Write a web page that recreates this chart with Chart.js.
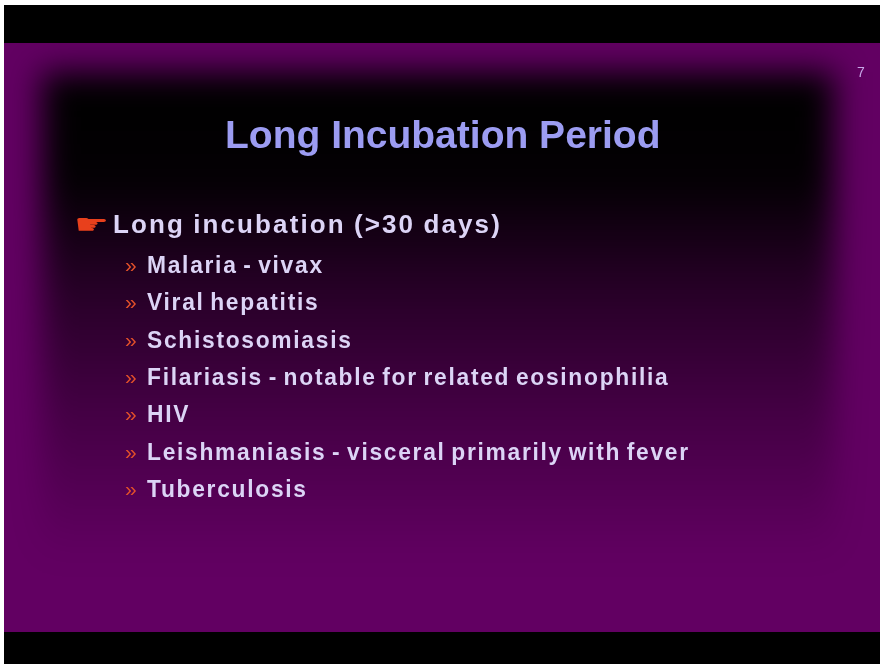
<!DOCTYPE html>
<html>
<head>
<meta charset="utf-8">
<script src="https://cdn.jsdelivr.net/npm/chart.js@4.4.1/dist/chart.umd.min.js"></script>
<style>
  html, body { margin: 0; padding: 0; background: #fff; }
  #wrap { position: relative; width: 880px; height: 664px; overflow: hidden; }
  #slide { position: absolute; left: 0; top: 0; }
  .txt { position: absolute; white-space: nowrap; font-family: "Liberation Sans", Arial, sans-serif; font-weight: bold; }
  #title { left: 225px; top: 112px; font-size: 39px; line-height: 46px; color: #9c9cf2; }
  #pageNo { left: 857px; top: 64px; font-size: 14px; line-height: 16px; color: #c8a8e8; font-weight: normal; }
  #heading { left: 113px; top: 209px; font-size: 26px; line-height: 30px; color: #dcd4f6; letter-spacing: 2.1px; word-spacing: -1px; }
  #hand { position: absolute; left: 74px; top: 211px; font-size: 28px; line-height: 28px; color: #e8401c;
          font-family: "DejaVu Sans", sans-serif; transform: scaleX(1.4); transform-origin: left center; }
  .item { left: 147px; font-size: 24px; line-height: 28px; color: #dcd4f6; letter-spacing: 1.8px; word-spacing: -2.5px;
          transform: scaleX(0.95); transform-origin: left center; }
  .chev { position: absolute; left: 125px; font-family: "Liberation Sans", Arial, sans-serif; font-size: 21px; line-height: 28px;
          color: #e2502a; letter-spacing: -3px; }
</style>
</head>
<body>
<div id="wrap">
  <canvas id="slide" width="880" height="664"></canvas>
</div>
<script>
// slide text
const slideTitle = 'Long Incubation Period';
const pageNumber = '7';
const heading = 'Long incubation (>30 days)';
const items = [
  'Malaria - vivax',
  'Viral hepatitis',
  'Schistosomiasis',
  'Filariasis - notable for related eosinophilia',
  'HIV',
  'Leishmaniasis - visceral primarily with fever',
  'Tuberculosis'
];

// background: purple slide with dark vignette, drawn on the chart canvas
const slideBackground = {
  id: 'slideBackground',
  beforeDraw(chart) {
    const ctx = chart.ctx;
    ctx.save();
    ctx.fillStyle = '#ffffff';
    ctx.fillRect(0, 0, 880, 664);
    ctx.fillStyle = '#000000';
    ctx.fillRect(4, 5, 876, 38);
    ctx.fillRect(4, 632, 876, 32);
    ctx.fillStyle = '#620062';
    ctx.fillRect(4, 43, 876, 589);

    ctx.beginPath();
    ctx.rect(4, 43, 876, 589);
    ctx.clip();
    ctx.filter = 'blur(16px)';
    const g = ctx.createLinearGradient(0, 70, 0, 560);
    g.addColorStop(0, 'rgba(0,0,0,1)');
    g.addColorStop(0.22, 'rgba(0,0,0,0.97)');
    g.addColorStop(0.45, 'rgba(0,0,0,0.6)');
    g.addColorStop(0.7, 'rgba(0,0,0,0.3)');
    g.addColorStop(1, 'rgba(0,0,0,0)');
    ctx.fillStyle = g;
    ctx.fillRect(42, 72, 792, 500);
    ctx.restore();
  }
};

new Chart(document.getElementById('slide'), {
  type: 'scatter',
  data: { datasets: [] },
  options: {
    responsive: false,
    animation: false,
    plugins: { legend: { display: false }, tooltip: { enabled: false } },
    scales: { x: { display: false }, y: { display: false } }
  },
  plugins: [slideBackground]
});

// text layer
const wrap = document.getElementById('wrap');
function addDiv(id, cls, text, top) {
  const d = document.createElement('div');
  if (id) d.id = id;
  d.className = cls;
  d.textContent = text;
  if (top !== undefined) d.style.top = top + 'px';
  wrap.appendChild(d);
  return d;
}
addDiv('title', 'txt', slideTitle);
addDiv('pageNo', 'txt', pageNumber);
addDiv('hand', '', '\u261B');
addDiv('heading', 'txt', heading);
items.forEach((t, i) => {
  const baseline = 273 + i * 37.3;
  const top = Math.round(baseline - 22);
  addDiv(null, 'chev', '\u00BB', top);
  addDiv(null, 'txt item', t, top);
});
</script>
</body>
</html>
